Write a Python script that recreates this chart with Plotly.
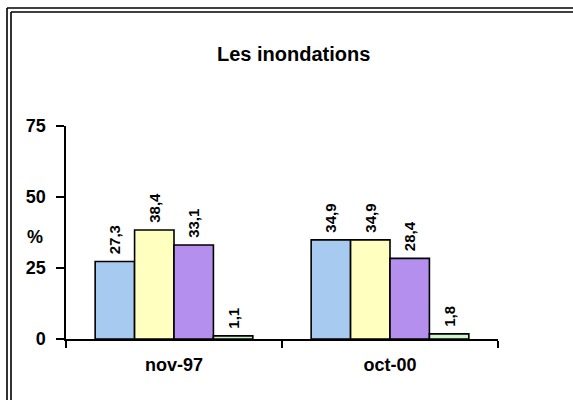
import plotly.graph_objects as go

categories = ["nov-97", "oct-00"]
series1 = [27.3, 34.9]
series2 = [38.4, 34.9]
series3 = [33.1, 28.4]
series4 = [1.1, 1.8]
colors = ["#A6CAF0", "#FFFFC0", "#B48FEE", "#CCF5CC"]
y_ticks = [0, 25, 50, 75]
title_text = "Les inondations"
y_label = "%"

FONT = "Liberation Sans, Arial, sans-serif"

fig = go.Figure()
for vals, col in zip([series1, series2, series3, series4], colors):
    fig.add_trace(go.Bar(
        x=categories, y=vals,
        marker=dict(color=col, line=dict(color="black", width=1.6)),
        texttemplate="\u00a0%{y:.1f}", textposition="outside", textangle=-90,
        textfont=dict(family=FONT, size=15, color="black", weight="bold"),
        cliponaxis=False, showlegend=False, hoverinfo="skip",
    ))

W, H = 573, 400
L, R, T, B = 66, 75, 126, 61
pw, ph = W - L - R, H - T - B

def px_x(px):
    return (px - L) / pw

def px_y(py):
    return (H - B - py) / ph

shapes = []
for (x0, y0) in [(7, 8), (11, 12)]:
    shapes.append(dict(type="line", xref="paper", yref="paper",
                       x0=px_x(x0), x1=px_x(600), y0=px_y(y0), y1=px_y(y0),
                       line=dict(color="black", width=1.6)))
    shapes.append(dict(type="line", xref="paper", yref="paper",
                       x0=px_x(x0), x1=px_x(x0), y0=px_y(y0), y1=px_y(420),
                       line=dict(color="black", width=1.6)))

fig.update_layout(
    width=W, height=H,
    margin=dict(l=L, r=R, t=T, b=B, autoexpand=False),
    paper_bgcolor="white", plot_bgcolor="white",
    barmode="group", bargap=0.27, bargroupgap=0,
    separators=", ",
    font=dict(family=FONT, color="black"),
    shapes=shapes,
    annotations=[
        dict(text="<b>" + title_text + "</b>", xref="paper", yref="paper",
             x=px_x(293), y=px_y(54), xanchor="center", yanchor="middle", showarrow=False,
             font=dict(family=FONT, size=20, color="black")),
        dict(text="<b>" + y_label + "</b>", xref="paper", yref="paper",
             x=px_x(35), y=px_y(237), xanchor="center", yanchor="middle", showarrow=False,
             font=dict(family=FONT, size=18, color="black")),
    ],
    xaxis=dict(
        type="category", showline=True, linecolor="black", linewidth=1.6,
        ticks="outside", tickson="boundaries", ticklen=7, tickwidth=1.6, tickcolor="black",
        tickfont=dict(family=FONT, size=18, color="black", weight="bold"),
        ticklabelstandoff=9, showgrid=False, zeroline=False,
    ),
    yaxis=dict(
        range=[0, 75], tickvals=y_ticks, showline=True, linecolor="black", linewidth=1.6,
        ticks="outside", ticklen=8, tickwidth=1.6, tickcolor="black",
        tickfont=dict(family=FONT, size=18, color="black", weight="bold"),
        ticklabelstandoff=7, showgrid=False, zeroline=False,
    ),
)

fig.write_html("out.html", config={"displayModeBar": False, "staticPlot": True},
               post_script="document.body.style.margin='0px';document.body.style.padding='0px';")
